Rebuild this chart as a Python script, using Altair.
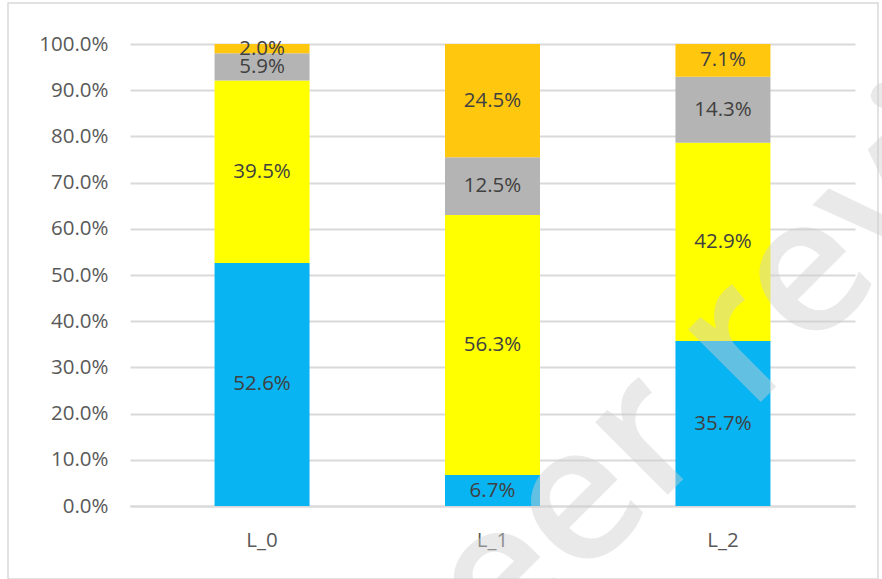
import altair as alt
import pandas as pd

categories = ["L_0", "L_1", "L_2"]
series = ["S1", "S2", "S3", "S4"]
colors = ["#08B4F2", "#FFFF00", "#B4B4B4", "#FFC80F"]
s1 = [52.6, 6.7, 35.7]
s2 = [39.5, 56.3, 42.9]
s3 = [5.9, 12.5, 14.3]
s4 = [2.0, 24.5, 7.1]
y_ticks = [0, 10, 20, 30, 40, 50, 60, 70, 80, 90, 100]

rows = []
for si, (name, vals) in enumerate(zip(series, [s1, s2, s3, s4])):
    for c, v in zip(categories, vals):
        rows.append({"cat": c, "series": name, "order": si, "value": v, "label": f"{v:.1f}%"})
df = pd.DataFrame(rows)

W, H = 725, 462
font = "Open Sans"
FS = 20.5

x = alt.X("cat:N", sort=categories, title=None,
          scale=alt.Scale(paddingInner=0, paddingOuter=0.073),
          axis=alt.Axis(labelAngle=0, labelFontSize=FS, labelColor="#595959", labelFont=font,
                        ticks=False, labelPadding=24, domainColor="#D9D9D9", domainWidth=2, grid=False))

base = alt.Chart(df)

bars = base.mark_bar(size=95).encode(
    x=x,
    y=alt.Y("value:Q", stack="zero", title=None,
            scale=alt.Scale(domain=[0, 100], nice=False),
            axis=alt.Axis(values=y_ticks, labelExpr="format(datum.value, '.1f') + '%'",
                          labelFontSize=FS, labelColor="#595959", labelFont=font,
                          ticks=False, labelPadding=22, domain=False,
                          grid=True, gridColor="#D9D9D9", gridWidth=2)),
    color=alt.Color("series:N", sort=series, scale=alt.Scale(domain=series, range=colors), legend=None),
    order=alt.Order("order:Q"),
)

labels = base.mark_text(fontSize=FS, color="#404040", font=font, baseline="middle").encode(
    x=alt.X("cat:N", sort=categories),
    y=alt.Y("mid:Q"),
    text="label:N",
).transform_stack(
    stack="value", groupby=["cat"], as_=["y0", "y1"], sort=[alt.SortField("order")]
).transform_calculate(mid="(datum.y0 + datum.y1) / 2")

border = alt.Chart(pd.DataFrame({"a": [0]})).mark_rect(
    fill=None, stroke="#D9D9D9", strokeWidth=1.5
).encode(x=alt.value(-122), x2=alt.value(748), y=alt.value(-41), y2=alt.value(535))

watermark = alt.Chart(pd.DataFrame({"t": ["Peer review"]})).mark_text(
    fontSize=190, fontWeight=600, color="#D0D0D0", opacity=0.45, angle=315,
    align="center", baseline="middle", font=font
).encode(text="t:N", x=alt.value(630), y=alt.value(278))

chart = alt.layer(border, bars, labels, watermark).properties(
    width=W, height=H,
    autosize=alt.AutoSizeParams(type="none"),
    padding={"left": 130, "top": 44, "right": 27, "bottom": 73},
    background="white",
).configure_view(stroke=None)

chart.save("out.html", embed_options={"renderer": "svg", "actions": False})
